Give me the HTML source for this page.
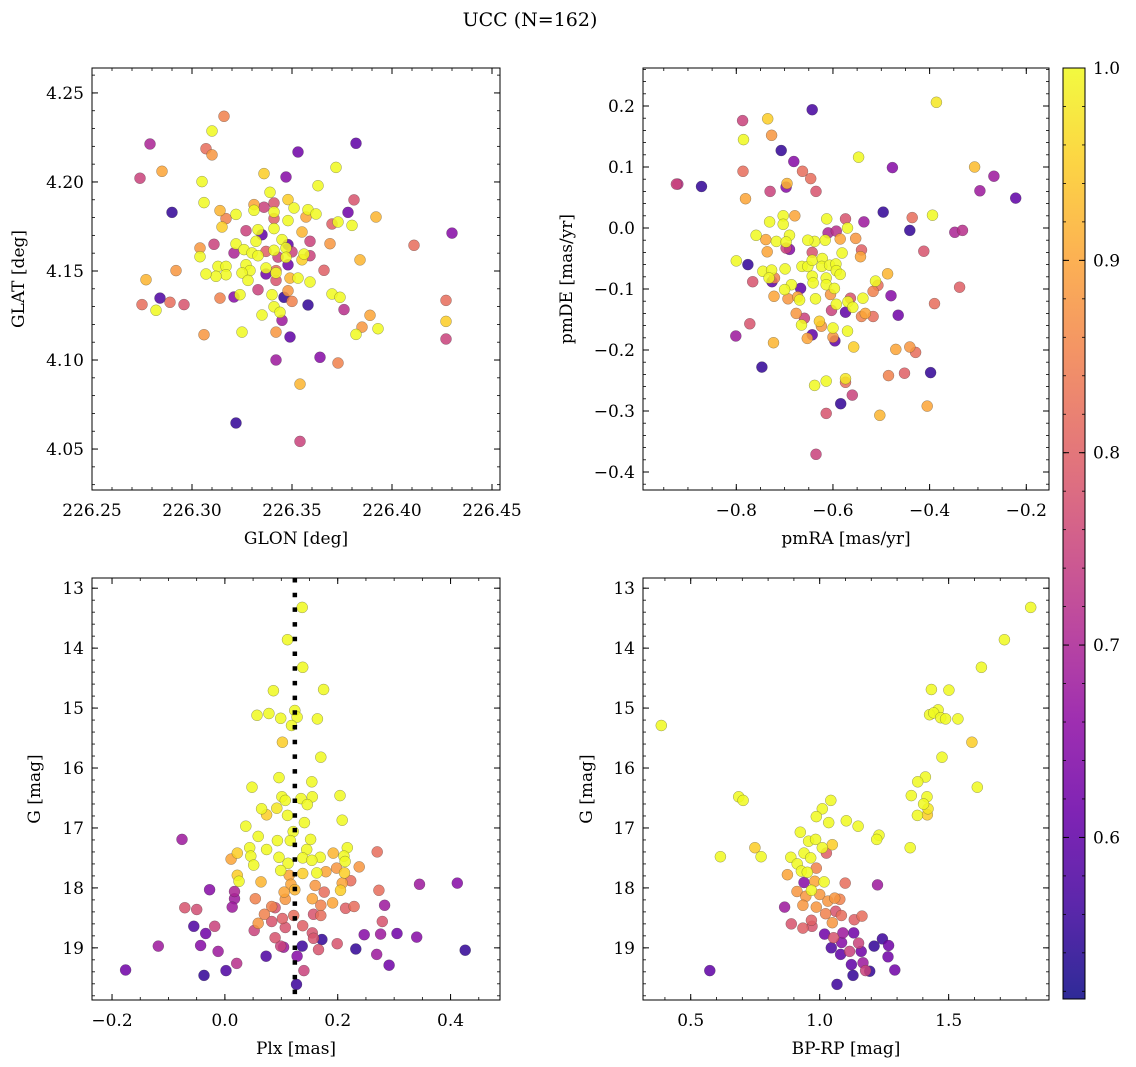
<!DOCTYPE html>
<html><head><meta charset="utf-8"><title>UCC (N=162)</title>
<style>
html,body{margin:0;padding:0;background:#fff;}
svg{display:block;font-family:"DejaVu Serif","Liberation Serif",serif;}
</style></head>
<body>
<svg id="fig" width="1136" height="1067" viewBox="0 0 1136 1067" xmlns="http://www.w3.org/2000/svg">
<text x="530" y="26" font-size="19" text-anchor="middle">UCC (N=162)</text>
</svg>
<script>
// ---- Panel 1: GLON vs GLAT ----
const glon = [226.316,226.310,226.279,226.307,226.310,226.353,226.382,226.285,226.274,226.336,226.347,226.372,226.305,226.363,226.339,226.306,226.290,226.314,226.317,226.315,226.322,226.331,226.336,226.341,226.331,226.341,226.341,226.348,226.351,226.348,226.358,226.362,226.357,226.378,226.381,226.392,226.370,226.373,226.380,226.341,226.327,226.333,226.335,226.332,226.355,226.359,226.369,226.311,226.304,226.304,226.322,226.326,226.321,226.330,226.337,226.341,226.345,226.347,226.348,226.343,226.347,226.350,226.356,226.359,226.355,226.348,226.333,226.337,226.327,226.329,226.337,226.342,226.342,226.313,226.317,226.317,226.312,226.307,226.325,226.328,226.292,226.277,226.342,226.349,226.353,226.359,226.366,226.384,226.411,226.430,226.333,226.348,226.284,226.275,226.289,226.296,226.282,226.314,226.321,226.324,226.340,226.346,226.350,226.358,226.370,226.374,226.376,226.341,226.344,226.345,226.335,226.325,226.306,226.342,226.349,226.389,226.385,226.382,226.393,226.427,226.427,226.427,226.342,226.364,226.373,226.354,226.322,226.354];
const glat = [4.2369,4.2286,4.2213,4.2187,4.2152,4.2168,4.2217,4.2060,4.2021,4.2047,4.2028,4.2082,4.2002,4.1979,4.1942,4.1884,4.1829,4.1839,4.1794,4.1747,4.1818,4.1873,4.1858,4.1882,4.1841,4.1831,4.1794,4.1901,4.1854,4.1783,4.1844,4.1820,4.1803,4.1829,4.1899,4.1803,4.1764,4.1775,4.1756,4.1738,4.1726,4.1732,4.1704,4.1667,4.1719,4.1667,4.1653,4.1650,4.1629,4.1580,4.1652,4.1620,4.1601,4.1601,4.1610,4.1616,4.1676,4.1629,4.1648,4.1578,4.1577,4.1607,4.1595,4.1586,4.1563,4.1535,4.1586,4.1517,4.1535,4.1502,4.1483,4.1502,4.1489,4.1526,4.1526,4.1479,4.1470,4.1483,4.1489,4.1447,4.1502,4.1451,4.1447,4.1460,4.1460,4.1438,4.1504,4.1562,4.1644,4.1713,4.1395,4.1389,4.1348,4.1311,4.1324,4.1311,4.1279,4.1348,4.1354,4.1367,4.1367,4.1352,4.1329,4.1309,4.1371,4.1352,4.1283,4.1299,4.1268,4.1223,4.1253,4.1157,4.1142,4.1157,4.1129,4.1251,4.1185,4.1144,4.1176,4.1335,4.1217,4.1118,4.1000,4.1015,4.0983,4.0865,4.0646,4.0543];
const prob1 = [.85,1,.7,.82,.88,.62,.6,.9,.75,.95,.65,1,1,1,1,1,.55,.92,.85,.95,1,.9,.75,.78,1,1,.8,.95,1,1,1,1,.9,.62,.78,.92,.8,1,1,1,.75,1,.6,1,.92,.75,.88,.75,.88,1,1,1,.7,1,.8,1,1,1,.6,.75,1,.75,1,.75,.95,.62,1,1,1,1,.62,.82,1,1,1,1,1,1,1,1,.88,.92,.78,.92,1,1,.8,.92,.82,.65,.75,.88,.58,.82,.82,.78,1,.85,.65,1,1,.55,.85,.55,1,1,.72,1,1,.68,1,1,.88,.88,.6,.9,.88,1,1,.82,.95,.75,.68,.65,.85,.92,.55,.75];

// ---- Panel 2: pmRA vs pmDE ----
const pmra = [-0.924,-0.921,-0.872,-0.787,-0.785,-0.735,-0.727,-0.643,-0.707,-0.681,-0.786,-0.663,-0.646,-0.695,-0.697,-0.730,-0.635,-0.781,-0.547,-0.477,-0.386,-0.307,-0.267,-0.296,-0.222,-0.496,-0.436,-0.394,-0.441,-0.348,-0.332,-0.412,-0.338,-0.390,-0.480,-0.465,-0.536,-0.574,-0.613,-0.570,-0.593,-0.610,-0.553,-0.585,-0.616,-0.638,-0.652,-0.679,-0.703,-0.703,-0.731,-0.759,-0.739,-0.717,-0.690,-0.697,-0.690,-0.697,-0.736,-0.800,-0.776,-0.745,-0.727,-0.732,-0.721,-0.726,-0.699,-0.766,-0.643,-0.664,-0.652,-0.643,-0.622,-0.623,-0.607,-0.594,-0.593,-0.585,-0.581,-0.541,-0.543,-0.643,-0.641,-0.614,-0.614,-0.597,-0.686,-0.700,-0.667,-0.722,-0.693,-0.673,-0.669,-0.636,-0.605,-0.593,-0.603,-0.574,-0.569,-0.559,-0.564,-0.538,-0.517,-0.512,-0.507,-0.487,-0.541,-0.533,-0.517,-0.676,-0.659,-0.665,-0.628,-0.624,-0.772,-0.801,-0.643,-0.653,-0.600,-0.596,-0.600,-0.570,-0.557,-0.723,-0.747,-0.470,-0.441,-0.429,-0.485,-0.452,-0.398,-0.638,-0.614,-0.574,-0.574,-0.560,-0.584,-0.614,-0.503,-0.405,-0.635];
const pmde = [0.072,0.072,0.068,0.176,0.145,0.179,0.152,0.194,0.127,0.109,0.093,0.093,0.081,0.073,0.067,0.060,0.060,0.048,0.116,0.099,0.206,0.100,0.085,0.061,0.049,0.026,0.017,0.021,-0.004,-0.007,-0.004,-0.038,-0.097,-0.124,-0.111,-0.143,0.010,0.015,0.015,0.000,-0.005,-0.008,-0.017,-0.018,-0.020,-0.022,-0.020,0.020,0.020,0.006,0.010,-0.012,-0.019,-0.022,-0.012,-0.023,-0.035,-0.033,-0.039,-0.054,-0.060,-0.071,-0.069,-0.082,-0.082,-0.088,-0.067,-0.088,-0.040,-0.063,-0.063,-0.053,-0.050,-0.063,-0.061,-0.059,-0.070,-0.076,-0.041,-0.036,-0.047,-0.079,-0.090,-0.082,-0.093,-0.099,-0.093,-0.101,-0.099,-0.112,-0.116,-0.113,-0.118,-0.116,-0.109,-0.125,-0.135,-0.138,-0.121,-0.130,-0.115,-0.115,-0.104,-0.087,-0.094,-0.075,-0.145,-0.140,-0.145,-0.140,-0.148,-0.159,-0.153,-0.161,-0.157,-0.177,-0.175,-0.181,-0.164,-0.185,-0.179,-0.169,-0.195,-0.188,-0.228,-0.199,-0.195,-0.204,-0.242,-0.238,-0.237,-0.258,-0.251,-0.253,-0.247,-0.274,-0.288,-0.304,-0.307,-0.292,-0.371];
const prob2 = [.75,.72,.55,.75,1,.95,.88,.57,.55,.65,.82,.82,.82,.92,.65,.75,.78,.9,1,.65,.98,.93,.68,.68,.6,.55,.82,1,.55,.7,.72,.78,.8,.82,.65,.62,.68,.78,1,1,.72,.7,.88,.9,1,1,1,.9,1,1,1,1,.9,1,1,1,.65,.75,.9,1,.55,1,1,1,.85,.6,1,.78,.78,1,1,1,1,1,1,1,1,1,1,.8,.9,1,1,1,1,1,1,1,.6,.9,.88,.9,1,1,.88,1,.75,.6,1,1,.78,1,.85,1,.82,.92,.85,.9,.82,.88,.75,1,.95,.88,.78,.68,.6,.9,1,.6,.88,1,.95,.92,.55,.9,.88,.82,.85,.8,.55,1,1,.82,.98,.75,.55,.78,.92,.9,.75];

// ---- Panel 3: Plx vs G ----
const plx = [0.137,0.111,0.138,0.086,0.175,0.057,0.078,0.099,0.124,0.128,0.118,0.164,0.102,0.170,0.096,0.154,0.048,0.204,0.101,0.107,0.135,0.155,0.146,0.065,0.074,0.092,0.111,0.141,0.208,0.037,0.121,-0.076,0.059,0.093,0.116,0.152,0.044,0.074,0.145,0.217,0.011,0.022,0.046,0.096,0.138,0.169,0.154,0.192,0.211,0.213,0.270,0.051,0.112,0.099,0.138,0.163,0.179,0.198,0.238,0.212,0.022,0.025,0.064,0.114,0.117,0.160,0.208,0.223,-0.027,0.017,0.017,0.105,0.124,0.176,0.205,0.273,0.345,0.412,0.054,0.107,0.155,0.191,0.013,-0.071,-0.050,0.083,0.089,0.170,0.214,0.229,0.283,0.070,0.122,0.157,0.170,0.059,0.083,0.102,0.107,0.138,0.279,-0.055,-0.018,-0.034,0.052,0.155,0.089,0.099,0.104,0.137,0.172,0.157,0.166,0.199,0.247,0.276,0.305,0.340,0.232,0.269,0.426,-0.118,-0.043,-0.012,0.073,0.128,0.021,0.291,-0.176,-0.037,0.002,0.140,0.127];
const gmag3 = [13.32,13.86,14.32,14.71,14.69,15.12,15.09,15.17,15.04,15.15,15.29,15.18,15.57,15.82,16.16,16.23,16.32,16.46,16.48,16.54,16.51,16.48,16.61,16.68,16.78,16.67,16.79,16.91,16.87,16.97,17.06,17.19,17.14,17.21,17.21,17.19,17.33,17.36,17.36,17.33,17.52,17.42,17.47,17.49,17.50,17.49,17.54,17.42,17.47,17.56,17.40,17.62,17.59,17.71,17.76,17.75,17.73,17.67,17.65,17.75,17.79,17.89,17.90,17.79,17.94,17.96,17.92,17.88,18.03,18.06,18.18,18.07,18.03,18.07,18.04,18.04,17.94,17.92,18.18,18.19,18.18,18.25,18.32,18.33,18.36,18.31,18.33,18.29,18.34,18.31,18.29,18.44,18.46,18.44,18.46,18.59,18.56,18.51,18.66,18.63,18.56,18.64,18.64,18.76,18.71,18.75,18.83,18.97,18.99,18.97,18.86,18.84,19.03,18.93,18.78,18.77,18.76,18.82,19.02,19.11,19.04,18.97,18.96,19.06,19.14,19.14,19.26,19.29,19.37,19.46,19.38,19.38,19.61];
const prob3 = [1,1,1,1,1,1,1,1,1,1,1,1,.95,1,1,1,1,1,1,1,1,1,1,1,.95,.98,1,1,1,1,1,.68,1,1,1,1,1,1,1,1,.9,.95,1,1,1,1,1,.92,1,1,.82,1,1,1,.95,1,.9,.88,.88,.95,.95,1,.92,.9,.9,.88,.9,.82,.65,.7,.68,.9,.92,.82,.95,.82,.68,.65,.85,.88,.9,.9,.68,.78,.77,.85,.78,.85,.8,.82,.68,.85,.82,.78,.82,.88,.78,.8,.78,.8,.78,.58,.75,.62,.75,.78,.78,.75,.68,.56,.55,.78,.78,.78,.65,.68,.62,.65,.55,.68,.55,.68,.65,.68,.58,.65,.72,.62,.62,.55,.58,.75,.56];

// ---- Panel 4: BP-RP vs G ----
const bprp = [1.818,1.716,1.627,1.433,1.501,1.459,1.426,1.442,1.469,1.488,1.536,0.386,1.590,1.474,1.410,1.380,1.611,1.355,1.416,1.403,1.420,1.417,1.379,0.686,0.703,1.043,1.010,0.987,1.035,1.103,1.149,0.925,1.230,1.221,1.351,0.749,0.773,0.615,0.957,0.984,1.010,1.049,1.026,0.888,0.939,0.965,0.913,0.987,0.929,0.952,0.875,0.939,0.981,1.017,1.099,1.224,0.912,0.968,0.946,1.000,1.032,1.058,1.078,0.864,0.935,0.987,1.023,1.062,1.084,1.134,1.164,0.890,0.935,0.968,0.970,1.049,1.019,1.090,1.132,1.054,1.085,1.151,1.045,1.081,1.116,1.161,1.211,1.243,1.267,1.265,1.123,1.168,1.178,1.194,1.129,1.291,0.574,1.067];
const gmag4 = [13.32,13.86,14.32,14.69,14.70,15.03,15.11,15.08,15.16,15.18,15.18,15.29,15.57,15.82,16.15,16.23,16.32,16.46,16.48,16.60,16.68,16.78,16.79,16.48,16.54,16.54,16.68,16.81,16.91,16.88,16.97,17.07,17.12,17.19,17.33,17.33,17.48,17.48,17.22,17.19,17.33,17.28,17.42,17.49,17.42,17.50,17.60,17.67,17.72,17.74,17.78,17.91,17.89,17.90,17.92,17.95,18.06,18.04,18.14,18.11,18.22,18.17,18.19,18.32,18.29,18.32,18.43,18.39,18.46,18.53,18.47,18.60,18.67,18.54,18.64,18.58,18.77,18.75,18.75,18.83,18.91,18.92,19.00,19.11,19.06,19.06,18.97,18.85,18.96,19.15,19.28,19.25,19.38,19.39,19.46,19.37,19.38,19.61];
const prob4 = [1,1,1,1,1,1,1,1,1,1,1,1,.95,1,1,1,1,1,1,1,.98,.95,1,1,1,1,1,1,1,1,1,1,1,1,1,.95,1,1,1,1,1,.95,.8,1,1,1,1,.85,1,1,.9,.65,.9,1,.82,.68,.88,1,.88,.88,.88,.88,.85,.68,.88,.88,.85,.78,.82,.8,.82,.78,.8,.8,.78,.88,.62,.68,.62,.78,.65,.75,.58,.6,.75,.62,.55,.56,.62,.62,.6,.68,.75,.55,.55,.62,.6,.56];

// ---- Ticks ----
const p1xTicks = [226.25,226.30,226.35,226.40,226.45];
const p1xLabels = ["226.25","226.30","226.35","226.40","226.45"];
const p1yTicks = [4.05,4.10,4.15,4.20,4.25];
const p1yLabels = ["4.05","4.10","4.15","4.20","4.25"];
const p2xTicks = [-0.8,-0.6,-0.4,-0.2];
const p2xLabels = ["\u22120.8","\u22120.6","\u22120.4","\u22120.2"];
const p2yTicks = [-0.4,-0.3,-0.2,-0.1,0.0,0.1,0.2];
const p2yLabels = ["\u22120.4","\u22120.3","\u22120.2","\u22120.1","0.0","0.1","0.2"];
const p3xTicks = [-0.2,0.0,0.2,0.4];
const p3xLabels = ["\u22120.2","0.0","0.2","0.4"];
const gTicks = [13,14,15,16,17,18,19];
const gLabels = ["13","14","15","16","17","18","19"];
const p4xTicks = [0.5,1.0,1.5];
const p4xLabels = ["0.5","1.0","1.5"];
const cbTicks = [0.6,0.7,0.8,0.9,1.0];
const cbLabels = ["0.6","0.7","0.8","0.9","1.0"];
const plxLine = 0.124;
const vmin = 0.516, vmax = 1.0;

const NS = "http://www.w3.org/2000/svg";
const svg = document.getElementById('fig');
function mk(tag, attrs, parent){
  const e = document.createElementNS(NS, tag);
  for (const k in attrs) e.setAttribute(k, attrs[k]);
  (parent||svg).appendChild(e);
  return e;
}
const plasma = [[13,8,135],[65,4,157],[106,0,168],[143,13,164],[177,42,144],[204,71,120],[225,100,98],[242,132,75],[252,166,54],[252,206,37],[240,249,33]];
function cmap(v){
  let t = (v - vmin)/(vmax - vmin); t = Math.max(0, Math.min(1, t));
  const f = t*10, i = Math.min(9, Math.floor(f)), r = f - i;
  const a = plasma[i], b = plasma[i+1];
  return `rgb(${Math.round(a[0]+(b[0]-a[0])*r)},${Math.round(a[1]+(b[1]-a[1])*r)},${Math.round(a[2]+(b[2]-a[2])*r)})`;
}
function lin(d0,d1,r0,r1){ return v => r0 + (v-d0)/(d1-d0)*(r1-r0); }
const FS = 17;

function panel(cfg){
  const g = mk('g', {});
  
  
  const X = lin(cfg.xd[0], cfg.xd[1], cfg.x0, cfg.x1);
  const Y = lin(cfg.yd[0], cfg.yd[1], cfg.y1, cfg.y0);
  const idx = cfg.xs.map((_,i)=>i).sort((a,b)=>cfg.ps[a]-cfg.ps[b]);
  const pg = mk('g', {}, g);
  
  
  for (const i of idx){
    const c = mk('circle', {cx:X(cfg.xs[i]).toFixed(1), cy:Y(cfg.ys[i]).toFixed(1), r:5.5, fill:cmap(cfg.ps[i]), 'fill-opacity':0.86, stroke:'#333', 'stroke-opacity':0.5, 'stroke-width':0.5}, pg);
    
    
  }
  if (cfg.vline !== undefined){
    const l = mk('line', {x1:X(cfg.vline), x2:X(cfg.vline), y1:cfg.y0, y2:cfg.y1, stroke:'#000', 'stroke-width':4.5, 'stroke-dasharray':'4.5 10.2'}, g);
    
    
  }
  const fr = mk('rect', {x:cfg.x0, y:cfg.y0, width:cfg.x1-cfg.x0, height:cfg.y1-cfg.y0, fill:'none', stroke:'#000', 'stroke-width':1}, g);
  
  
  const lo = Math.min(...cfg.xd), hi = Math.max(...cfg.xd);
  for (let v = Math.ceil(lo/cfg.xm - 1e-6)*cfg.xm; v <= hi + 1e-9; v += cfg.xm){
    const px = X(v);
    mk('line', {x1:px,x2:px,y1:cfg.y1,y2:cfg.y1-3,stroke:'#000','stroke-width':0.8}, g);
    mk('line', {x1:px,x2:px,y1:cfg.y0,y2:cfg.y0+3,stroke:'#000','stroke-width':0.8}, g);
  }
  const ylo = Math.min(...cfg.yd), yhi = Math.max(...cfg.yd);
  for (let v = Math.ceil(ylo/cfg.ym - 1e-6)*cfg.ym; v <= yhi + 1e-9; v += cfg.ym){
    const py = Y(v);
    mk('line', {x1:cfg.x0,x2:cfg.x0+3,y1:py,y2:py,stroke:'#000','stroke-width':0.8}, g);
    mk('line', {x1:cfg.x1,x2:cfg.x1-3,y1:py,y2:py,stroke:'#000','stroke-width':0.8}, g);
  }
  cfg.xt.forEach((v,i)=>{
    const px = X(v);
    mk('line', {x1:px,x2:px,y1:cfg.y1,y2:cfg.y1-6,stroke:'#000','stroke-width':1}, g);
    mk('line', {x1:px,x2:px,y1:cfg.y0,y2:cfg.y0+6,stroke:'#000','stroke-width':1}, g);
    const t = mk('text', {x:px, y:cfg.y1+26, 'font-size':FS, 'text-anchor':'middle'}, g);
    t.textContent = cfg.xl[i];
    
    
  });
  cfg.yt.forEach((v,i)=>{
    const py = Y(v);
    mk('line', {x1:cfg.x0,x2:cfg.x0+6,y1:py,y2:py,stroke:'#000','stroke-width':1}, g);
    mk('line', {x1:cfg.x1,x2:cfg.x1-6,y1:py,y2:py,stroke:'#000','stroke-width':1}, g);
    const t = mk('text', {x:cfg.x0-8, y:py+6, 'font-size':FS, 'text-anchor':'end'}, g);
    t.textContent = cfg.yl[i];
    
    
  });
  const xt = mk('text', {x:(cfg.x0+cfg.x1)/2, y:cfg.y1+54, 'font-size':FS, 'text-anchor':'middle'}, g);
  xt.textContent = cfg.xlabel;
  
  
  const yc = (cfg.y0+cfg.y1)/2;
  const yt = mk('text', {x:cfg.ylx, y:yc, 'font-size':FS, 'text-anchor':'middle', transform:`rotate(-90 ${cfg.ylx} ${yc})`}, g);
  yt.textContent = cfg.ylabel;
  
  
}

panel({name:'glon-glat-panel', x0:92,x1:500,y0:68,y1:490, xd:[226.25,226.454], yd:[4.027,4.264],
  xs:glon, ys:glat, ps:prob1, xt:p1xTicks, xl:p1xLabels, yt:p1yTicks, yl:p1yLabels, xm:0.01, ym:0.01,
  xlabel:'GLON [deg]', ylabel:'GLAT [deg]', ylx:24});
panel({name:'pm-panel', x0:643,x1:1049,y0:68,y1:490, xd:[-0.993,-0.153], yd:[-0.4295,0.2623],
  xs:pmra, ys:pmde, ps:prob2, xt:p2xTicks, xl:p2xLabels, yt:p2yTicks, yl:p2yLabels, xm:0.05, ym:0.02,
  xlabel:'pmRA [mas/yr]', ylabel:'pmDE [mas/yr]', ylx:572});
panel({name:'plx-g-panel', x0:92,x1:500,y0:578,y1:1000, xd:[-0.2355,0.4876], yd:[19.87,12.83],
  xs:plx, ys:gmag3, ps:prob3, xt:p3xTicks, xl:p3xLabels, yt:gTicks, yl:gLabels, xm:0.05, ym:0.2,
  xlabel:'Plx [mas]', ylabel:'G [mag]', ylx:40, vline:plxLine});
panel({name:'cmd-panel', x0:643,x1:1049,y0:578,y1:1000, xd:[0.315,1.889], yd:[19.87,12.83],
  xs:bprp, ys:gmag4, ps:prob4, xt:p4xTicks, xl:p4xLabels, yt:gTicks, yl:gLabels, xm:0.1, ym:0.2,
  xlabel:'BP-RP [mag]', ylabel:'G [mag]', ylx:592});

(function(){
  const cx0 = 1063, cx1 = 1085, cy0 = 68, cy1 = 999;
  const g = mk('g', {});
  
  
  const defs = mk('defs', {}, g);
  const lg = mk('linearGradient', {id:'cbgrad', x1:0, y1:1, x2:0, y2:0}, defs);
  for (let k = 0; k <= 20; k++){
    const v = vmin + (vmax-vmin)*k/20;
    mk('stop', {offset:(k/20), 'stop-color':cmap(v), 'stop-opacity':0.86}, lg);
  }
  const r = mk('rect', {x:cx0, y:cy0, width:cx1-cx0, height:cy1-cy0, fill:'url(#cbgrad)', stroke:'#000', 'stroke-width':1}, g);
  
  
  const Y = lin(vmin, vmax, cy1, cy0);
  for (let v = 0.52; v <= 1.0001; v += 0.02){
    mk('line', {x1:cx1, x2:cx1-3, y1:Y(v), y2:Y(v), stroke:'#000', 'stroke-width':0.8}, g);
    mk('line', {x1:cx0, x2:cx0+3, y1:Y(v), y2:Y(v), stroke:'#000', 'stroke-width':0.8}, g);
  }
  cbTicks.forEach((v,i)=>{
    mk('line', {x1:cx1, x2:cx1-6, y1:Y(v), y2:Y(v), stroke:'#000', 'stroke-width':1}, g);
    mk('line', {x1:cx0, x2:cx0+6, y1:Y(v), y2:Y(v), stroke:'#000', 'stroke-width':1}, g);
    const t = mk('text', {x:cx1+8, y:Y(v)+6, 'font-size':FS}, g);
    t.textContent = cbLabels[i];
    
    
  });
})();
</script>
</body></html>
